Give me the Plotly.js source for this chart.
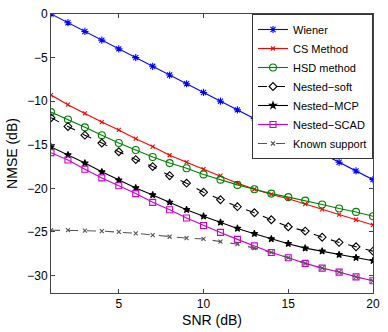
<!DOCTYPE html>
<html>
<head>
<meta charset="utf-8">
<script src="https://cdn.plot.ly/plotly-3.0.1.min.js"></script>
<style>
  html, body { margin: 0; padding: 0; background: #fff; }
  #chart { width: 388px; height: 332px; }
</style>
</head>
<body>
<div id="chart"></div>
<script>
// SNR values (dB)
const snr = [1, 2, 3, 4, 5, 6, 7, 8, 9, 10, 11, 12, 13, 14, 15, 16, 17, 18, 19, 20];

// NMSE (dB) for each method
const wiener = [0, -1, -2, -3, -4, -5, -6, -7, -8, -9, -10, -11, -12, -13, -14, -15, -16, -17, -18, -19];
const csMethod = [-9.3, -10.4, -11.4, -12.4, -13.3, -14.3, -15.2, -16.2, -17.0, -17.8, -18.55, -19.4, -20.1, -20.7, -21.2, -21.8, -22.4, -23.0, -23.6, -24.2];
const hsdMethod = [-11.25, -12.1, -13.0, -13.9, -14.8, -15.6, -16.4, -17.1, -17.7, -18.4, -19.0, -19.6, -20.1, -20.6, -21.0, -21.4, -21.85, -22.3, -22.7, -23.2];
const nestedSoft = [-11.9, -12.9, -13.9, -14.8, -15.8, -16.7, -17.5, -18.55, -19.4, -20.45, -21.3, -22.1, -22.8, -23.6, -24.4, -24.9, -25.6, -26.2, -26.7, -27.2];
const nestedMcp = [-15.25, -16.15, -17.1, -18.1, -19.05, -19.95, -20.75, -21.6, -22.45, -23.2, -23.9, -24.6, -25.2, -25.8, -26.35, -26.85, -27.2, -27.6, -27.95, -28.3];
const nestedScad = [-15.9, -16.75, -17.8, -18.8, -19.7, -20.6, -21.6, -22.45, -23.4, -24.25, -25.05, -25.85, -26.6, -27.35, -27.95, -28.6, -29.15, -29.6, -30.15, -30.6];
const knownSupport = [-24.8, -24.8, -24.85, -24.9, -25.0, -25.15, -25.35, -25.55, -25.7, -25.8, -26.1, -26.4, -26.85, -27.35, -27.95, -28.6, -29.15, -29.6, -30.15, -30.6];

function series(name, y, color, dash, symbol, size) {
    return {
        x: snr,
        y: y,
        name: name,
        type: 'scatter',
        mode: 'lines+markers',
        line: { color: color, width: 1.1, dash: dash },
        marker: {
            symbol: symbol,
            size: size,
            color: color,
            line: { color: color, width: 1.1 }
        }
    };
}

const data = [
    series('Wiener', wiener, '#0000ff', 'solid', 'asterisk-open', 6),
    series('CS Method', csMethod, '#ff0000', 'solid', 'x-thin-open', 4),
    series('HSD method', hsdMethod, '#008000', 'solid', 'circle-open', 7),
    series('Nested\u2212soft', nestedSoft, '#000000', 'dash', 'diamond-open', 6),
    series('Nested\u2212MCP', nestedMcp, '#000000', 'solid', 'star', 5),
    series('Nested\u2212SCAD', nestedScad, '#cc00cc', 'solid', 'square-open', 6),
    series('Known support', knownSupport, '#555555', 'dash', 'x-thin-open', 4)
];

const layout = {
    width: 388,
    height: 332,
    margin: { l: 51, r: 15, t: 14, b: 39 },
    paper_bgcolor: '#ffffff',
    plot_bgcolor: '#ffffff',
    font: { family: 'Liberation Sans, Arial, sans-serif', size: 12, color: '#000' },
    showlegend: true,
    legend: {
        x: 1, y: 1, xanchor: 'right', yanchor: 'top',
        bgcolor: '#ffffff',
        bordercolor: '#333',
        borderwidth: 1,
        font: { size: 11 },
        itemwidth: 30,
        tracegroupgap: 0
    },
    xaxis: {
        title: { text: 'SNR (dB)', standoff: 4 },
        range: [1, 20],
        tickvals: [5, 10, 15, 20],
        ticks: 'inside',
        ticklen: 4,
        showline: true,
        mirror: 'ticks',
        linecolor: '#444',
        tickcolor: '#444',
        showgrid: false,
        zeroline: false
    },
    yaxis: {
        title: { text: 'NMSE (dB)', standoff: 6 },
        range: [-32, 0],
        tickvals: [0, -5, -10, -15, -20, -25, -30],
        ticks: 'inside',
        ticklen: 4,
        showline: true,
        mirror: 'ticks',
        linecolor: '#444',
        tickcolor: '#444',
        showgrid: false,
        zeroline: false
    }
};

Plotly.newPlot('chart', data, layout, { displayModeBar: false, staticPlot: true });
</script>
</body>
</html>
